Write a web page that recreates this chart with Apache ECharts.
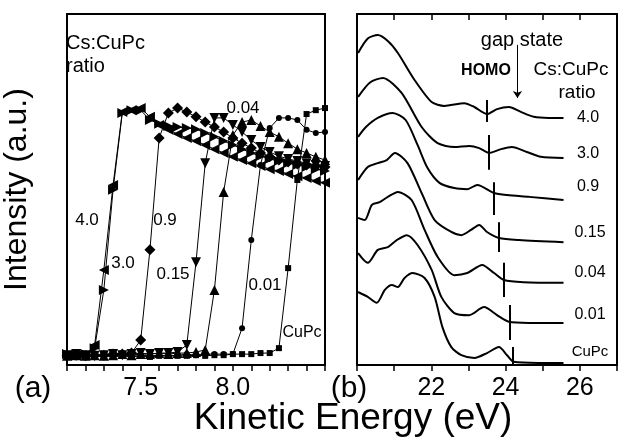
<!DOCTYPE html>
<html>
<head>
<meta charset="utf-8">
<script src="https://cdn.jsdelivr.net/npm/echarts@6/dist/echarts.min.js"></script>
<style>
    html, body { margin: 0; padding: 0; background: #fff; }
    #chart { width: 620px; height: 441px; }
</style>
</head>
<body>
<div id="chart"></div>
<script>
// (a) secondary electron cutoff, kinetic energy grid shared by all ratios
const cutoffEnergy = [7.10, 7.15, 7.20, 7.25, 7.30, 7.35, 7.40, 7.45, 7.50, 7.55,
    7.60, 7.65, 7.70, 7.75, 7.80, 7.85, 7.90, 7.95, 8.00, 8.05,
    8.10, 8.15, 8.20, 8.25, 8.30, 8.35, 8.40, 8.45, 8.50];
const cutoff40 = [2.8, 2.6, 2.8, 5.7, 27.1, 51.3, 72.1, 72.6, 73.2, 70.7, 68.4, 67.0, 65.8, 64.7, 63.8, 62.7, 61.5, 60.4, 59.3, 58.4, 57.5, 56.7, 55.8, 55.3, 54.4, 53.8, 53.3, 52.4, 51.9];
const cutoff30 = [3.1, 2.8, 3.1, 4.8, 21.4, 49.9, 71.8, 72.6, 72.6, 69.8, 68.7, 68.1, 67.8, 67.5, 67.2, 66.1, 65.0, 63.8, 62.7, 61.5, 60.4, 59.5, 58.7, 58.1, 57.5, 57.0, 56.4, 55.8, 55.3];
const cutoff09 = [2.6, 2.8, 2.6, 2.8, 2.8, 3.1, 3.1, 3.4, 7.1, 32.8, 64.7, 71.8, 73.2, 72.1, 70.7, 69.2, 67.8, 66.4, 64.7, 63.2, 61.8, 60.4, 59.3, 58.4, 57.8, 57.3, 57.0, 56.7, 56.4];
const cutoff015 = [2.8, 3.1, 2.8, 2.6, 2.8, 3.1, 2.8, 3.1, 3.4, 3.1, 3.4, 3.4, 3.7, 5.7, 29.3, 57.5, 70.4, 70.4, 68.4, 66.4, 64.1, 62.1, 60.7, 59.5, 58.7, 58.1, 57.5, 57.0, 56.7];
const cutoff004 = [2.6, 2.8, 2.6, 2.8, 2.6, 2.8, 3.1, 2.8, 3.1, 3.1, 3.4, 3.1, 3.4, 3.4, 3.7, 4.3, 21.4, 49.3, 65.5, 69.2, 69.8, 68.1, 66.4, 65.0, 63.2, 61.5, 60.4, 59.3, 58.4];
const cutoff001 = [2.6, 2.8, 2.6, 2.8, 2.6, 2.8, 2.6, 2.8, 2.8, 2.6, 2.8, 2.6, 2.8, 3.1, 2.8, 3.1, 3.1, 3.1, 3.1, 10.5, 35.6, 57.0, 67.5, 70.4, 70.4, 69.8, 67.0, 66.1, 66.4];
const cutoffCuPc = [2.6, 2.3, 2.6, 2.3, 2.6, 2.3, 2.6, 2.3, 2.6, 2.3, 2.6, 2.6, 2.6, 2.6, 2.8, 2.6, 2.8, 2.8, 3.1, 3.1, 3.1, 3.4, 3.4, 4.8, 27.6, 52.7, 71.5, 72.6, 73.2];

// (b) valence spectra, [kinetic energy, offset intensity]
const valence40 = [[20.03, 88.9], [20.29, 93.0], [20.56, 94.0], [20.83, 92.3], [21.10, 88.9], [21.55, 81.2], [22.01, 74.9], [22.35, 73.8], [22.89, 74.6], [23.16, 73.5], [23.50, 71.5], [23.77, 72.9], [24.09, 73.5], [24.41, 72.1], [24.76, 70.7], [25.16, 70.4], [25.56, 70.4]];
const valence30 = [[20.03, 76.4], [20.35, 80.5], [20.70, 81.8], [21.20, 77.5], [21.74, 67.8], [22.17, 63.2], [22.62, 62.1], [23.02, 62.4], [23.29, 61.8], [23.56, 60.4], [23.88, 61.5], [24.17, 62.1], [24.57, 60.7], [24.95, 59.3], [25.56, 59.0]];
const valence09 = [[20.03, 65.0], [20.24, 67.8], [20.56, 70.4], [20.96, 71.8], [21.31, 69.8], [21.63, 62.7], [21.90, 56.1], [22.22, 51.9], [22.62, 50.4], [22.97, 50.1], [23.24, 51.3], [23.69, 49.0], [24.04, 48.4], [24.63, 47.9], [25.56, 47.0]];
const valence015 = [[20.03, 52.7], [20.29, 56.4], [20.56, 57.5], [20.80, 58.4], [21.02, 60.4], [21.36, 57.5], [21.74, 49.0], [22.09, 41.3], [22.54, 37.9], [22.81, 37.0], [23.07, 38.5], [23.29, 39.9], [23.50, 37.9], [23.82, 36.2], [24.36, 35.6], [25.56, 35.0]];
const valence004 = [[20.03, 41.9], [20.21, 41.3], [20.40, 45.6], [20.61, 46.4], [20.83, 47.9], [21.10, 49.3], [21.47, 47.0], [21.82, 38.5], [22.17, 30.8], [22.62, 25.6], [22.97, 26.2], [23.37, 28.5], [23.69, 26.2], [23.96, 24.2], [24.49, 23.6], [25.56, 23.4]];
const valence001 = [[20.03, 31.9], [20.29, 29.1], [20.56, 32.8], [20.83, 33.6], [21.07, 35.6], [21.34, 37.0], [21.63, 34.2], [22.01, 27.1], [22.27, 19.4], [22.62, 14.8], [23.02, 14.2], [23.42, 16.5], [23.77, 14.2], [24.09, 12.3], [24.63, 12.0], [25.56, 12.0]];
const valenceCuPc = [[20.03, 20.8], [20.29, 19.4], [20.53, 17.7], [20.75, 21.4], [20.94, 22.8], [21.10, 22.2], [21.28, 24.8], [21.50, 26.2], [21.82, 24.8], [22.09, 19.4], [22.30, 10.8], [22.54, 5.1], [22.81, 2.8], [23.16, 2.0], [23.50, 3.4], [23.82, 5.1], [24.04, 2.8], [24.22, 0.9], [24.89, 0.6], [25.56, 0.6]];

// HOMO onset markers, one per spectrum (top to bottom)
const homoEnergy = [23.50, 23.56, 23.69, 23.82, 23.96, 24.12, 24.20];
const homoTop = [75.5, 65.5, 52.1, 40.7, 29.1, 17.1, 5.1];
const homoBottom = [69.2, 55.6, 42.7, 32.2, 19.4, 7.1, 0];
const gapStateArrow = [[24.32, 91.2], [24.32, 76.1]];

const ratioLabels = ['4.0', '3.0', '0.9', '0.15', '0.04', '0.01', 'CuPc'];

const FONT = '"Liberation Sans", Arial, Helvetica, sans-serif';
const BLACK = '#000';

const chart = echarts.init(document.getElementById('chart'), null, { renderer: 'canvas' });

function frameAxis(grid, pos, extra) {
    return Object.assign({
        type: 'value', gridIndex: grid, position: pos,
        axisLine: { show: true, onZero: false, lineStyle: { color: BLACK, width: 2 } },
        axisTick: { show: false }, axisLabel: { show: false }, splitLine: { show: false }
    }, extra || {});
}

function cutoffSeries(name, values, symbol, rotate, size) {
    return {
        name: name, type: 'line', xAxisIndex: 0, yAxisIndex: 0,
        data: cutoffEnergy.map((e, i) => [e, values[i]]),
        symbol: symbol, symbolRotate: rotate, symbolSize: size, showAllSymbol: true,
        itemStyle: { color: BLACK },
        lineStyle: { color: BLACK, width: 1 },
        animation: false
    };
}

function valenceSeries(name, pts) {
    return {
        name: name, type: 'line', xAxisIndex: 2, yAxisIndex: 2,
        data: pts, smooth: 0.25, symbol: 'none',
        lineStyle: { color: BLACK, width: 2 },
        animation: false
    };
}

function txt(text, x, y, size, align, weight) {
    return {
        type: 'text', x: x, y: y,
        style: {
            text: text, fill: BLACK, font: (weight || '') + ' ' + size + 'px ' + FONT,
            textAlign: align || 'center', textVerticalAlign: 'middle'
        }
    };
}

const labelA = v => (Math.abs(v - 7.5) < 1e-6 || Math.abs(v - 8) < 1e-6) ? v.toFixed(1) : '';
const labelB = v => ([22, 24, 26].indexOf(Math.round(v)) >= 0 && Math.abs(v - Math.round(v)) < 1e-6) ? String(Math.round(v)) : '';

chart.setOption({
    backgroundColor: '#fff',
    animation: false,
    grid: [
        { left: 62, top: 14, width: 263, height: 351 },
        { left: 357, top: 14, width: 262, height: 351 }
    ],
    xAxis: [
        frameAxis(0, 'bottom', {
            min: 7.1, max: 8.5, interval: 0.1,
            axisTick: { show: true, inside: false, length: 6, lineStyle: { color: BLACK, width: 1.5 } },
            axisLabel: { show: true, interval: 0, formatter: labelA, color: BLACK, fontSize: 25, fontFamily: FONT, margin: 11 }
        }),
        frameAxis(0, 'top', { min: 7.1, max: 8.5 }),
        frameAxis(1, 'bottom', {
            min: 20, max: 27, interval: 1,
            axisTick: { show: true, inside: false, length: 6, lineStyle: { color: BLACK, width: 1.5 } },
            axisLabel: { show: true, interval: 0, formatter: labelB, color: BLACK, fontSize: 25, fontFamily: FONT, margin: 11 }
        }),
        frameAxis(1, 'top', {
            min: 20, max: 27, interval: 1,
            axisTick: { show: true, inside: true, length: 6, lineStyle: { color: BLACK, width: 1.5 } }
        })
    ],
    yAxis: [
        frameAxis(0, 'left', {
            min: 0, max: 100,
            name: 'Intensity (a.u.)', nameLocation: 'middle', nameGap: 34, nameRotate: 90,
            nameTextStyle: { color: BLACK, fontSize: 32, fontFamily: FONT }
        }),
        frameAxis(0, 'right', { min: 0, max: 100 }),
        frameAxis(1, 'left', { min: 0, max: 100 }),
        frameAxis(1, 'right', { min: 0, max: 100 })
    ],
    series: [
        cutoffSeries('CuPc', cutoffCuPc, 'rect', 0, 6),
        cutoffSeries('0.01', cutoff001, 'circle', 0, 6),
        cutoffSeries('0.04', cutoff004, 'triangle', 0, 10),
        cutoffSeries('0.15', cutoff015, 'triangle', 180, 10),
        cutoffSeries('0.9', cutoff09, 'diamond', 0, 11),
        cutoffSeries('3.0', cutoff30, 'triangle', -90, 10),
        cutoffSeries('4.0', cutoff40, 'triangle', 90, 10),
        valenceSeries('v4.0', valence40),
        valenceSeries('v3.0', valence30),
        valenceSeries('v0.9', valence09),
        valenceSeries('v0.15', valence015),
        valenceSeries('v0.04', valence004),
        valenceSeries('v0.01', valence001),
        valenceSeries('vCuPc', valenceCuPc),
        {
            name: 'HOMO', type: 'lines', coordinateSystem: 'cartesian2d',
            xAxisIndex: 2, yAxisIndex: 2,
            data: homoEnergy.map((e, i) => ({ coords: [[e, homoTop[i]], [e, homoBottom[i]]] })),
            lineStyle: { color: BLACK, width: 2, opacity: 1 },
            animation: false
        },
        {
            name: 'gap state', type: 'lines', coordinateSystem: 'cartesian2d',
            xAxisIndex: 2, yAxisIndex: 2,
            data: [{ coords: gapStateArrow }],
            symbol: ['none', 'arrow'], symbolSize: 7,
            lineStyle: { color: BLACK, width: 1, opacity: 1 },
            animation: false
        }
    ],
    graphic: [
        // panel (a) annotations
        txt('Cs:CuPc', 66, 43, 20, 'left'),
        txt('ratio', 66, 66, 20, 'left'),
        txt(ratioLabels[0], 87, 220, 17),
        txt(ratioLabels[1], 123, 263, 17),
        txt(ratioLabels[2], 165, 220, 17),
        txt(ratioLabels[3], 173, 274, 17),
        txt(ratioLabels[4], 243, 108, 17),
        txt(ratioLabels[5], 265, 285, 17),
        txt(ratioLabels[6], 302, 333, 16),
        // panel (b) annotations
        txt('gap state', 522, 40, 20),
        txt('HOMO', 486, 71, 16, 'center', 'bold'),
        txt('Cs:CuPc', 571, 70, 19),
        txt('ratio', 577, 93, 19),
        txt(ratioLabels[0], 588, 118, 16),
        txt(ratioLabels[1], 588, 154, 16),
        txt(ratioLabels[2], 588, 187, 16),
        txt(ratioLabels[3], 590, 233, 16),
        txt(ratioLabels[4], 590, 273, 16),
        txt(ratioLabels[5], 590, 315, 16),
        txt(ratioLabels[6], 590, 352, 15),
        // panel tags and shared axis title
        txt('(a)', 33, 389, 30),
        txt('(b)', 349, 389, 30),
        txt('Kinetic Energy (eV)', 353, 419, 37)
    ]
});
</script>
</body>
</html>
